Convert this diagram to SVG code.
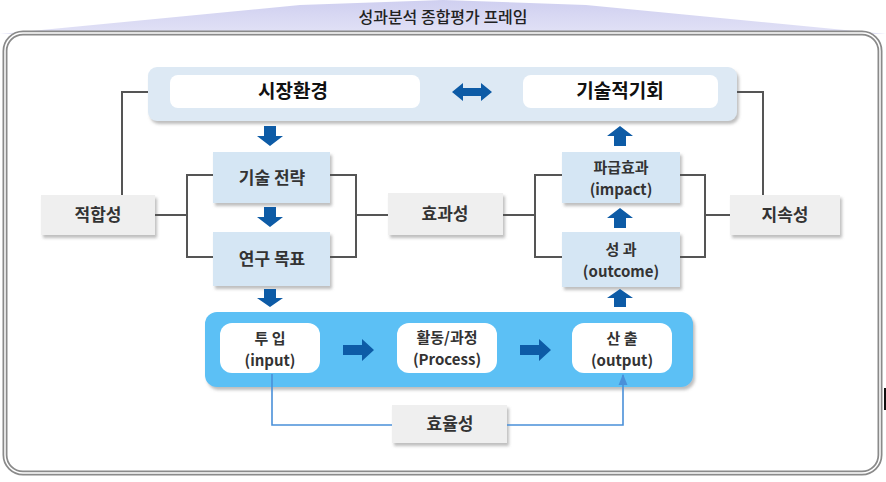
<svg xmlns="http://www.w3.org/2000/svg" width="886" height="482" viewBox="0 0 886 482">
<defs>
<linearGradient id="ban" x1="0" y1="0" x2="0" y2="1">
<stop offset="0" stop-color="#cfcff0"/>
<stop offset="1" stop-color="#e2e2f6"/>
</linearGradient>
<filter id="sh" x="-10%" y="-10%" width="130%" height="140%">
<feDropShadow dx="2" dy="3" stdDeviation="1.5" flood-color="#888" flood-opacity="0.55"/>
</filter>
<marker id="ah" viewBox="0 0 10 10" refX="9" refY="5" markerWidth="7" markerHeight="7" orient="auto">
<path d="M0,1 L10,5 L0,9 z" fill="#4a90d9"/>
</marker>
<style>
text{font-family:"Noto Sans CJK KR","Noto Sans",sans-serif;font-weight:bold;fill:#333;text-anchor:middle}
.lb{fill:#d5e6f4;filter:url(#sh)}
.gb{fill:#efefef;filter:url(#sh)}
.wb{fill:#fff}
.ar{fill:#0d5ba6}
.ln{fill:none;stroke:#555;stroke-width:2}
.bl{fill:none;stroke:#4a90d9;stroke-width:1.6}
.t16{font-size:17px}
.t15{font-size:15px}
.t18{font-size:19px;fill:#111}
</style>
</defs>
<rect width="886" height="482" fill="#fff"/>
<polygon points="0,34 300,5 443,0 586,5 886,34" fill="url(#ban)"/>
<text x="443" y="23" style="font-size:16px;font-weight:500;fill:#222">성과분석 종합평가 프레임</text>
<rect x="5" y="33" width="875" height="440" rx="18" fill="#fff" stroke="#8a8a8a" stroke-width="5"/>
<rect x="5" y="33" width="875" height="440" rx="18" fill="none" stroke="#fff" stroke-width="1.5"/>
<rect x="884" y="388" width="2" height="22" fill="#111"/>

<g id="topbar">
<rect x="148" y="67" width="589" height="54" rx="9" fill="#dde9f4" filter="url(#sh)"/>
</g>
<g id="market">
<rect class="wb" x="170" y="75" width="250" height="33" rx="8"/>
<text class="t18" x="293" y="98">시장환경</text>
</g>
<g id="techopp">
<rect class="wb" x="523" y="75" width="195" height="33" rx="8"/>
<text class="t18" x="620" y="98">기술적기회</text>
</g>
<g id="strategy">
<rect class="lb" x="213" y="152" width="117" height="51"/>
<text class="t16" x="272" y="184">기술 전략</text>
</g>
<g id="goal">
<rect class="lb" x="213" y="232" width="117" height="54"/>
<text class="t16" x="272" y="265">연구 목표</text>
</g>
<g id="fit">
<rect class="gb" x="41" y="195" width="114" height="40"/>
<text class="t16" x="98" y="221">적합성</text>
</g>
<g id="effect">
<rect class="gb" x="388" y="193" width="115" height="42"/>
<text class="t16" x="445" y="220">효과성</text>
</g>
<g id="sustain">
<rect class="gb" x="730" y="195" width="110" height="40"/>
<text class="t16" x="785" y="221">지속성</text>
</g>
<g id="impact">
<rect class="lb" x="562" y="152" width="118" height="51"/>
<text class="t15" x="621" y="173">파급효과</text>
<text class="t15" x="621" y="195">(impact)</text>
</g>
<g id="outcome">
<rect class="lb" x="562" y="232" width="118" height="55"/>
<text class="t15" x="621" y="255">성 과</text>
<text class="t15" x="621" y="277">(outcome)</text>
</g>
<g id="bottombar">
<rect x="205" y="312" width="488" height="75" rx="12" fill="#5bc0f5" filter="url(#sh)"/>
</g>
<g id="input">
<rect class="wb" x="220" y="323" width="100" height="50" rx="12"/>
<text class="t15" x="270" y="344">투 입</text>
<text class="t15" x="270" y="366">(input)</text>
</g>
<g id="process">
<rect class="wb" x="397" y="323" width="100" height="50" rx="12"/>
<text class="t15" x="447" y="343">활동/과정</text>
<text class="t15" x="447" y="365">(Process)</text>
</g>
<g id="output">
<rect class="wb" x="572" y="323" width="100" height="50" rx="12"/>
<text class="t15" x="622" y="344">산 출</text>
<text class="t15" x="622" y="366">(output)</text>
</g>
<g id="efficiency">
<rect class="gb" x="392" y="405" width="115" height="38"/>
<text class="t16" x="450" y="430">효율성</text>
</g>

<g id="connectors">
<polyline class="ln" points="148,92 122,92 122,195"/>
<line class="ln" x1="155" y1="215" x2="187" y2="215"/>
<polyline class="ln" points="213,175 187,175 187,257 213,257"/>
<polyline class="ln" points="330,175 356,175 356,257 330,257"/>
<line class="ln" x1="356" y1="215" x2="388" y2="215"/>
<line class="ln" x1="503" y1="215" x2="535" y2="215"/>
<polyline class="ln" points="562,175 535,175 535,257 562,257"/>
<polyline class="ln" points="680,175 705,175 705,257 680,257"/>
<line class="ln" x1="705" y1="215" x2="730" y2="215"/>
<polyline class="ln" points="737,92 763,92 763,195"/>
<polyline class="bl" points="272,374 272,425 392,425"/>
<polyline class="bl" points="507,425 623,425 623,375" marker-end="url(#ah)"/>
<path class="ar" d="M264,126 h12 v10 h7 l-13,10 l-13,-10 h7 z"/>
<path class="ar" d="M264,207 h12 v10 h7 l-13,10 l-13,-10 h7 z"/>
<path class="ar" d="M264,289 h12 v9 h7 l-13,9 l-13,-9 h7 z"/>
<path class="ar" d="M614,146 h12 v-10 h7 l-13,-10 l-13,10 h7 z"/>
<path class="ar" d="M614,228 h12 v-10 h7 l-13,-10 l-13,10 h7 z"/>
<path class="ar" d="M614,307 h12 v-9 h7 l-13,-9 l-13,9 h7 z"/>
<path class="ar" d="M343,345 h19 v-6 l12,11 l-12,11 v-6 h-19 z"/>
<path class="ar" d="M520,345 h19 v-6 l12,11 l-12,11 v-6 h-19 z"/>
<path class="ar" d="M452,92 l11,-9 v5 h18 v-5 l11,9 l-11,9 v-5 h-18 v5 z"/>
</g>
</svg>
